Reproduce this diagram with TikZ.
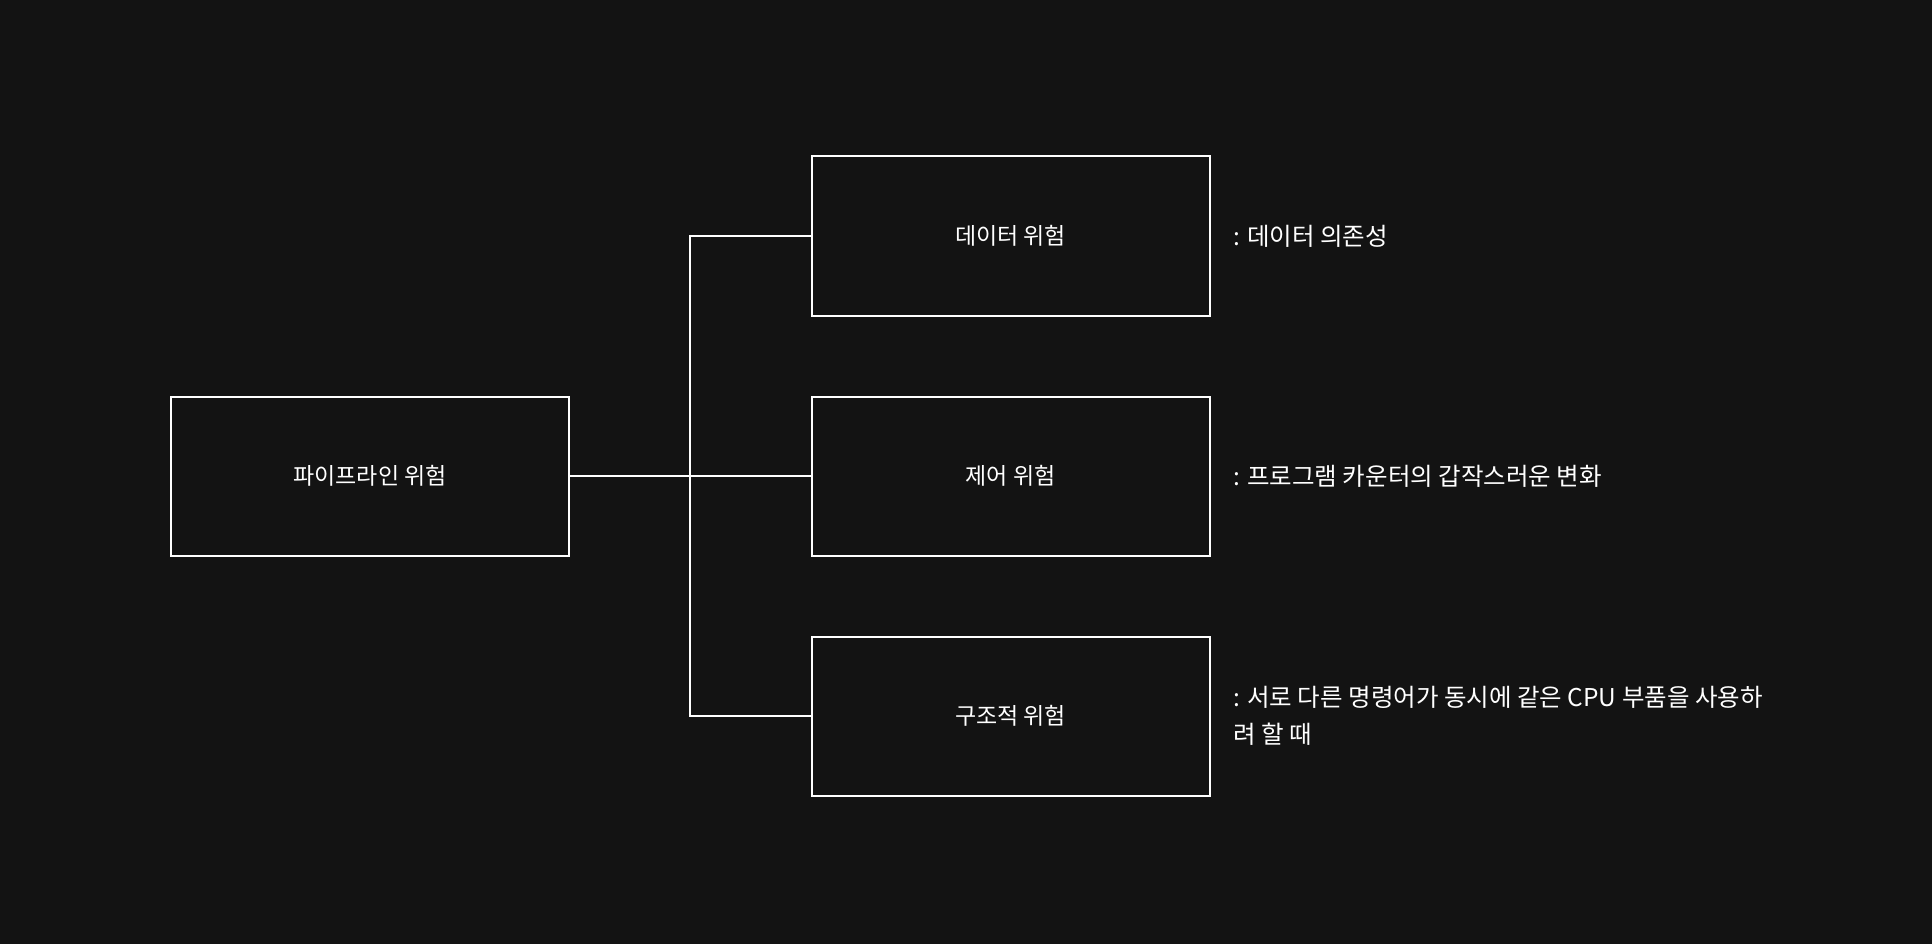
\documentclass[tikz,border=0pt]{standalone}
\usepackage{fontspec}
\setmainfont{Noto Sans CJK KR}
\definecolor{bgdark}{HTML}{131313}
\tikzset{
  hazard/.style={draw=white,line width=2pt,minimum width=398pt,minimum height=159pt,inner sep=0pt,text=white,font=\fontsize{23}{27}\selectfont},
  note/.style={anchor=west,align=left,inner sep=0pt,text=white,font=\fontsize{24.5}{37}\selectfont},
  wire/.style={draw=white,line width=2pt}
}
\begin{document}
\begin{tikzpicture}[x=1pt,y=-1pt]
\fill[bgdark] (0,0) rectangle (1932,944);
\useasboundingbox (0,0) rectangle (1932,944);

% boxes
\node[hazard] (pipe) at (370,476) {파이프라인 위험};
\node[hazard] (data) at (1010.5,236) {데이터 위험};
\node[hazard] (ctrl) at (1010.5,476) {제어 위험};
\node[hazard] (struct) at (1010.5,716) {구조적 위험};

% notes
\node[note] (datanote) at (1233,236) {: 데이터 의존성};
\node[note] (ctrlnote) at (1233,476) {: 프로그램 카운터의 갑작스러운 변화};
\node[note] (structnote) at (1233,716) {: 서로 다른 명령어가 동시에 같은 CPU 부품을 사용하\\려 할 때};

% connectors
\coordinate (split) at (690,476);
\draw[wire] (pipe.east) -- (ctrl.west);
\draw[wire] (data.west) -| (split) |- (struct.west);
\end{tikzpicture}
\end{document}
